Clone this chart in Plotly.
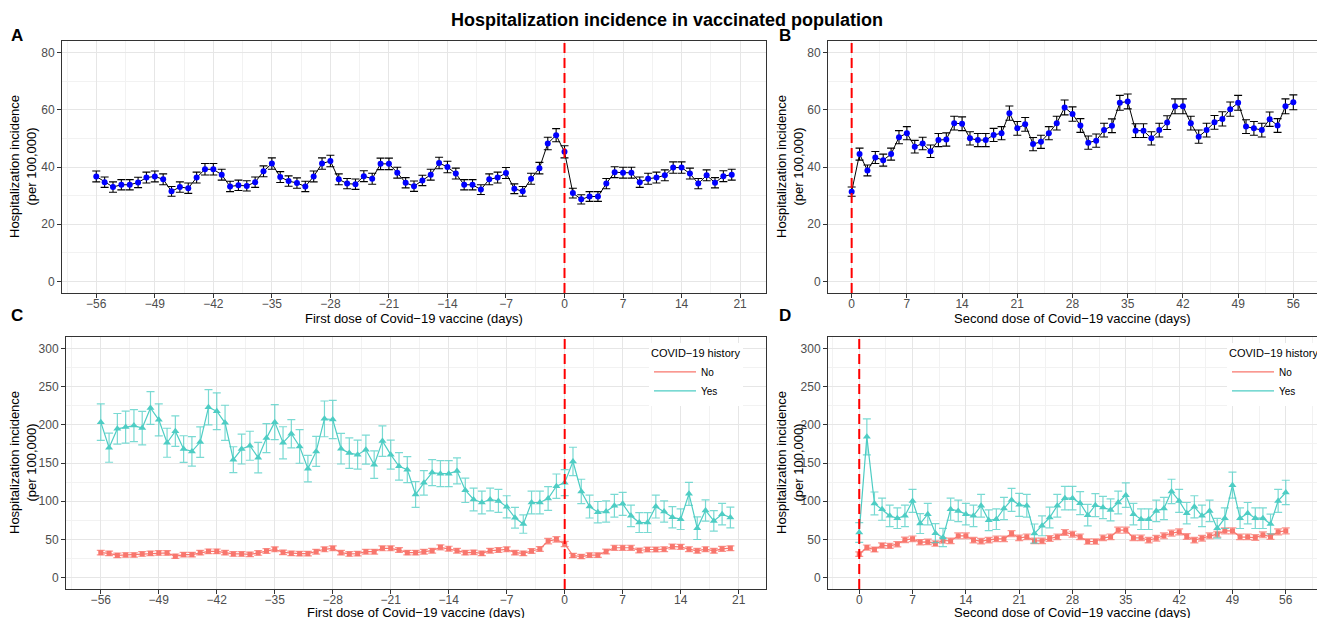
import plotly.graph_objects as go

W, H = 1317, 618
FONT = "Liberation Sans, Arial, sans-serif"

days_first = list(range(-56, 21))
days_second = list(range(0, 57))
ticks_first = [-56, -49, -42, -35, -28, -21, -14, -7, 0, 7, 14, 21]
ticks_second = [0, 7, 14, 21, 28, 35, 42, 49, 56]

# Panel A: first dose, overall
a_rate = [36.7, 34.7, 33.0, 33.8, 33.8, 34.6, 36.3, 36.7, 35.7, 31.5, 33.0, 32.6, 36.3, 39.2, 39.2, 37.3,
          33.2, 33.6, 33.4, 34.7, 38.5, 41.2, 36.5, 35.1, 34.4, 33.2, 36.7, 41.2, 42.1, 35.7, 34.2, 34.0,
          36.8, 35.9, 41.1, 41.1, 38.0, 34.5, 33.3, 35.3, 37.3, 41.4, 40.0, 37.7, 33.8, 33.8, 32.1, 35.7,
          36.3, 37.9, 32.4, 31.5, 35.9, 39.6, 48.2, 51.1, 45.3, 30.9, 28.7, 29.7, 29.7, 34.2, 38.2, 38.0,
          38.0, 34.7, 35.9, 36.3, 37.1, 39.8, 39.8, 37.7, 34.2, 37.1, 34.5, 36.8, 37.3]
a_err = [1.9, 1.8, 1.8, 1.8, 1.8, 1.8, 1.9, 1.9, 1.9, 1.7, 1.8, 1.8, 1.9, 2.0, 2.0, 1.9,
         1.8, 1.8, 1.8, 1.8, 1.9, 2.0, 1.9, 1.8, 1.8, 1.8, 1.9, 2.0, 2.0, 1.9, 1.8, 1.8,
         1.9, 1.9, 2.0, 2.0, 1.9, 1.8, 1.8, 1.8, 1.9, 2.0, 2.0, 1.9, 1.8, 1.8, 1.7, 1.9,
         1.9, 1.9, 1.7, 1.7, 1.9, 2.0, 2.2, 2.3, 2.1, 1.7, 1.6, 1.7, 1.7, 1.8, 1.9, 1.9,
         1.9, 1.8, 1.9, 1.9, 1.9, 2.0, 2.0, 1.9, 1.8, 1.9, 1.8, 1.9, 1.9]

# Panel B: second dose, overall
b_rate = [31.4, 44.5, 38.8, 43.3, 42.4, 44.5, 50.4, 51.8, 47.1, 48.2, 45.5, 49.4, 49.6, 55.3, 55.1, 50.0,
          49.4, 49.4, 51.2, 51.8, 58.8, 53.5, 54.9, 48.0, 48.8, 51.8, 55.3, 60.8, 58.5, 54.5, 48.5, 49.2,
          52.9, 54.4, 62.4, 62.9, 52.7, 52.7, 50.0, 52.9, 55.5, 61.2, 61.2, 55.3, 50.6, 52.9, 55.6, 56.8,
          60.2, 62.4, 54.1, 53.5, 52.9, 56.7, 54.5, 61.2, 62.6]
b_err = [1.6, 2.1, 1.9, 2.1, 2.1, 2.1, 2.3, 2.3, 2.2, 2.2, 2.2, 2.3, 2.3, 2.4, 2.4, 2.3,
         2.3, 2.3, 2.3, 2.3, 2.5, 2.4, 2.4, 2.3, 2.3, 2.3, 2.4, 2.6, 2.5, 2.4, 2.3, 2.3,
         2.4, 2.4, 2.6, 2.6, 2.4, 2.4, 2.3, 2.4, 2.4, 2.6, 2.6, 2.4, 2.3, 2.4, 2.4, 2.5,
         2.5, 2.6, 2.4, 2.4, 2.4, 2.5, 2.4, 2.6, 2.6]

# Panel C: first dose by COVID-19 history
c_no = [32.6, 31.7, 29.0, 29.6, 29.6, 30.9, 31.7, 32.2, 32.2, 27.8, 30.0, 30.0, 32.6, 34.3, 34.3, 32.6,
        30.9, 30.9, 30.4, 32.2, 34.8, 37.0, 33.0, 31.7, 31.3, 31.3, 33.9, 37.0, 38.3, 32.6, 30.9, 31.3,
        33.9, 33.9, 38.3, 38.3, 36.0, 32.6, 32.6, 33.9, 35.2, 39.6, 37.8, 35.2, 32.6, 33.0, 31.7, 35.2,
        36.0, 37.0, 32.6, 31.7, 34.8, 37.4, 47.8, 50.0, 43.9, 28.8, 27.5, 29.3, 29.3, 34.0, 39.0, 39.0,
        39.0, 35.4, 36.7, 36.7, 37.1, 40.6, 40.2, 37.1, 35.0, 37.1, 35.0, 37.6, 38.4]
c_no_err = [3.0, 3.0, 2.9, 2.9, 2.9, 3.0, 3.0, 3.0, 3.0, 2.8, 2.9, 2.9, 3.0, 3.1, 3.1, 3.0,
            3.0, 3.0, 2.9, 3.0, 3.1, 3.2, 3.0, 3.0, 3.0, 3.0, 3.1, 3.2, 3.2, 3.0, 3.0, 3.0,
            3.1, 3.1, 3.2, 3.2, 3.1, 3.0, 3.0, 3.1, 3.1, 3.3, 3.2, 3.1, 3.0, 3.0, 3.0, 3.1,
            3.1, 3.2, 3.0, 3.0, 3.1, 3.2, 3.6, 3.7, 3.4, 2.8, 2.8, 2.9, 2.9, 3.1, 3.3, 3.3,
            3.3, 3.1, 3.1, 3.1, 3.2, 3.3, 3.3, 3.2, 3.1, 3.2, 3.1, 3.2, 3.2]
c_yes = [203.5, 170.0, 194.8, 197.0, 199.0, 195.7, 222.0, 206.5, 176.5, 191.7, 168.3, 165.2, 177.4, 223.0,
         217.8, 202.6, 154.3, 168.3, 172.6, 157.0, 182.6, 203.5, 176.5, 188.3, 171.7, 142.6, 165.2, 207.8,
         207.0, 168.7, 163.0, 160.9, 167.4, 147.8, 178.7, 160.9, 145.7, 141.3, 108.7, 124.0, 137.4, 136.0,
         136.0, 139.6, 114.3, 102.2, 98.3, 102.2, 100.4, 92.6, 78.3, 70.0, 98.3, 98.3, 103.5, 119.6,
         124.3, 152.0, 112.7, 93.0, 85.6, 86.5, 94.0, 96.5, 80.8, 72.0, 72.0, 93.0, 86.5, 79.0,
         76.4, 109.6, 64.6, 87.8, 74.2, 83.0, 78.6]
c_yes_err = [24.0, 19.0, 20.0, 21.0, 21.0, 22.0, 21.5, 21.0, 19.0, 20.0, 17.4, 19.3, 20.0, 23.0,
             24.0, 23.0, 17.0, 19.6, 19.0, 20.0, 19.0, 23.0, 21.0, 18.5, 22.0, 17.4, 19.6, 23.4,
             25.0, 20.0, 20.0, 19.0, 19.0, 18.0, 20.0, 19.0, 18.0, 17.0, 16.8, 16.0, 17.0, 17.0,
             17.0, 17.0, 16.0, 15.0, 15.0, 15.0, 15.0, 14.5, 13.5, 12.0, 15.0, 15.0, 15.5, 16.0,
             17.0, 18.6, 16.0, 15.0, 14.0, 14.0, 15.0, 15.0, 14.0, 13.0, 13.0, 15.0, 14.0, 14.0,
             13.5, 15.0, 14.8, 14.0, 13.5, 14.0, 13.5]

# Panel D: second dose by COVID-19 history
d_no = [30.6, 39.3, 36.7, 42.0, 41.5, 43.7, 49.3, 50.7, 46.3, 46.7, 44.5, 48.5, 48.0, 54.6, 54.6, 48.9,
        47.6, 48.9, 50.7, 50.7, 57.6, 52.0, 53.3, 48.0, 48.0, 51.1, 53.3, 59.0, 56.8, 53.3, 47.2, 47.2,
        52.0, 53.3, 62.0, 62.0, 52.0, 52.0, 48.9, 51.5, 54.6, 58.1, 59.8, 53.7, 48.9, 51.5, 54.6, 56.8,
        61.1, 61.1, 53.3, 53.3, 52.4, 55.9, 53.7, 59.8, 61.1]
d_no_err = [3.0, 3.3, 3.2, 3.4, 3.4, 3.5, 3.6, 3.7, 3.5, 3.5, 3.5, 3.6, 3.6, 3.8, 3.8, 3.6,
            3.6, 3.6, 3.7, 3.7, 3.9, 3.7, 3.7, 3.6, 3.6, 3.7, 3.7, 3.9, 3.8, 3.7, 3.6, 3.6,
            3.7, 3.7, 4.0, 4.0, 3.7, 3.7, 3.6, 3.7, 3.8, 3.9, 3.9, 3.7, 3.6, 3.7, 3.8, 3.8,
            3.9, 3.9, 3.7, 3.7, 3.7, 3.8, 3.7, 3.9, 3.9]
d_yes = [59.0, 184.3, 97.0, 89.5, 80.8, 77.7, 80.8, 100.4, 70.7, 83.0, 58.1, 52.4, 89.5, 87.3, 83.0,
         80.8, 94.0, 75.0, 76.4, 90.4, 101.7, 95.2, 94.0, 57.6, 67.7, 78.6, 94.0, 104.0, 104.0, 97.4,
         81.7, 94.8, 91.7, 88.6, 98.3, 107.9, 83.0, 76.4, 76.4, 87.3, 90.4, 112.7, 100.4, 84.3, 92.6,
         80.8, 87.3, 64.6, 77.7, 121.0, 77.7, 84.3, 77.7, 77.7, 70.0, 100.4, 111.4]
d_yes_err = [13.0, 23.6, 15.0, 14.5, 14.0, 13.5, 14.0, 15.0, 13.0, 14.0, 12.5, 12.0, 14.5, 14.0, 14.0,
             14.0, 15.0, 13.5, 13.5, 14.5, 15.0, 15.0, 15.0, 12.5, 13.0, 13.5, 15.0, 15.5, 15.5, 15.0,
             14.0, 15.0, 14.5, 14.5, 15.0, 16.0, 14.0, 13.5, 13.5, 14.0, 14.5, 16.0, 15.0, 14.0, 14.5,
             14.0, 14.0, 13.0, 13.5, 17.0, 13.5, 14.0, 13.5, 13.5, 13.0, 15.0, 16.0]

COL_NO = "#F8766D"
COL_YES = "#4ECDC4"
ERR_NO = "rgba(248,118,109,0.75)"
ERR_YES = "rgba(78,205,196,0.75)"


def px_x(p):
    return p / W


def px_y(p):
    return 1 - p / H


fig = go.Figure()

# Panel A
fig.add_trace(go.Scatter(x=days_first, y=a_rate, mode="lines+markers", xaxis="x", yaxis="y",
                         line=dict(color="black", width=1),
                         marker=dict(color="blue", size=6),
                         error_y=dict(type="data", array=a_err, color="black", thickness=1.1, width=4),
                         showlegend=False))
# Panel B
fig.add_trace(go.Scatter(x=days_second, y=b_rate, mode="lines+markers", xaxis="x2", yaxis="y2",
                         line=dict(color="black", width=1),
                         marker=dict(color="blue", size=6),
                         error_y=dict(type="data", array=b_err, color="black", thickness=1.1, width=4),
                         showlegend=False))
# Panel C
fig.add_trace(go.Scatter(x=days_first, y=c_no, mode="lines+markers", xaxis="x3", yaxis="y3",
                         line=dict(color=COL_NO, width=1.2),
                         marker=dict(color=COL_NO, size=5, symbol="square"),
                         error_y=dict(type="data", array=c_no_err, color=ERR_NO, thickness=1.2, width=4),
                         showlegend=False))
fig.add_trace(go.Scatter(x=days_first, y=c_yes, mode="lines+markers", xaxis="x3", yaxis="y3",
                         line=dict(color=COL_YES, width=1.2),
                         marker=dict(color=COL_YES, size=7, symbol="triangle-up"),
                         error_y=dict(type="data", array=c_yes_err, color=ERR_YES, thickness=1.2, width=4),
                         showlegend=False))
# Panel D
fig.add_trace(go.Scatter(x=days_second, y=d_no, mode="lines+markers", xaxis="x4", yaxis="y4",
                         line=dict(color=COL_NO, width=1.2),
                         marker=dict(color=COL_NO, size=5, symbol="square"),
                         error_y=dict(type="data", array=d_no_err, color=ERR_NO, thickness=1.2, width=4),
                         showlegend=False))
fig.add_trace(go.Scatter(x=days_second, y=d_yes, mode="lines+markers", xaxis="x4", yaxis="y4",
                         line=dict(color=COL_YES, width=1.2),
                         marker=dict(color=COL_YES, size=7, symbol="triangle-up"),
                         error_y=dict(type="data", array=d_yes_err, color=ERR_YES, thickness=1.2, width=4),
                         showlegend=False))

# Legend-only traces (lines only, like ggplot key)
for lg, ax in (("legend", ("x3", "y3")), ("legend2", ("x4", "y4"))):
    fig.add_trace(go.Scatter(x=[None], y=[None], mode="lines", name="No", legend=lg,
                             xaxis=ax[0], yaxis=ax[1], line=dict(color=COL_NO, width=1.2)))
    fig.add_trace(go.Scatter(x=[None], y=[None], mode="lines", name="Yes", legend=lg,
                             xaxis=ax[0], yaxis=ax[1], line=dict(color=COL_YES, width=1.2)))

tick_font = dict(family=FONT, size=12, color="#4D4D4D")


def xax(dom, rng, ticks, anchor, mirror=True):
    return dict(domain=dom, range=rng, tickvals=ticks, anchor=anchor, ticks="outside", ticklen=4,
                tickcolor="#333333", tickfont=tick_font, showline=True, linecolor="#333333", linewidth=1,
                mirror=mirror, showgrid=True, gridcolor="#E6E6E6", gridwidth=1, zeroline=False,
                ticklabelstandoff=-4,
                minor=dict(dtick=3.5, tick0=0, showgrid=True, gridcolor="#F2F2F2", gridwidth=1, ticks=""))


def yax(dom, rng, ticks, minor_dt, anchor, mirror=True):
    return dict(domain=dom, range=rng, tickvals=ticks, anchor=anchor, ticks="outside", ticklen=4,
                tickcolor="#333333", tickfont=tick_font, showline=True, linecolor="#333333", linewidth=1,
                mirror=mirror, showgrid=True, gridcolor="#E6E6E6", gridwidth=1, zeroline=False,
                minor=dict(dtick=minor_dt, tick0=0, showgrid=True, gridcolor="#F2F2F2", gridwidth=1, ticks=""))


top_dom = [px_y(293), px_y(41)]
bot_dom = [px_y(589), px_y(337)]
left_a = [px_x(62), px_x(766)]
left_c = [px_x(66), px_x(766)]
right_dom = [px_x(828), 1.0]

legend_common = dict(xanchor="left", yanchor="top", bgcolor="white",
                     font=dict(family=FONT, size=10, color="black"),
                     title=dict(text="COVID\u221219 history", font=dict(family=FONT, size=11, color="black")),
                     itemwidth=42, tracegroupgap=0)

fig.update_layout(
    width=W, height=H,
    margin=dict(l=0, r=0, t=0, b=0, autoexpand=False),
    paper_bgcolor="white", plot_bgcolor="white",
    font=dict(family=FONT, color="black"),
    xaxis=xax(left_a, [-60.1, 24.1], ticks_first, "y"),
    yaxis=yax(top_dom, [-4, 84], [0, 20, 40, 60, 80], 10, "x"),
    xaxis2=xax(right_dom, [-3.0, 59.0], ticks_second, "y2"),
    yaxis2=yax(top_dom, [-4, 84], [0, 20, 40, 60, 80], 10, "x2", mirror=False),
    xaxis3=xax(left_c, [-60.2, 24.3], ticks_first, "y3"),
    yaxis3=yax(bot_dom, [-15, 315], [0, 50, 100, 150, 200, 250, 300], 25, "x3"),
    xaxis4=xax(right_dom, [-4.1, 60.1], ticks_second, "y4"),
    yaxis4=yax(bot_dom, [-15, 315], [0, 50, 100, 150, 200, 250, 300], 25, "x4", mirror=False),
    legend=dict(x=px_x(649), y=px_y(343), **legend_common),
    legend2=dict(x=px_x(1227), y=px_y(343), **legend_common),
)

# Red dashed reference lines at day 0
for xa, ya in (("x", "y"), ("x2", "y2"), ("x3", "y3"), ("x4", "y4")):
    fig.add_shape(type="line", x0=0, x1=0, y0=0, y1=1, xref=xa, yref=ya + " domain",
                  line=dict(color="red", width=2, dash="10px,5px"), layer="above")

ann = []
ann.append(dict(text="<b>Hospitalization incidence in vaccinated population</b>", x=px_x(667), y=px_y(20),
                font=dict(size=18, family=FONT, color="black")))
for lab, xp, yp in (("A", 17, 36), ("B", 785, 36), ("C", 17, 315), ("D", 785, 315)):
    ann.append(dict(text="<b>%s</b>" % lab, x=px_x(xp), y=px_y(yp), font=dict(size=17, family=FONT, color="black")))
ytitle = "Hospitalization incidence<br>(per 100,000)"
for xp, yp in ((23, 167), (790, 167), (23, 463), (790, 463)):
    ann.append(dict(text=ytitle, x=px_x(xp), y=px_y(yp), textangle=-90,
                    font=dict(size=13, family=FONT, color="black")))
for txt, xp, yp in (("First dose of Covid\u221219 vaccine (days)", 414, 318),
                    ("Second dose of Covid\u221219 vaccine (days)", 1072, 318),
                    ("First dose of Covid\u221219 vaccine (days)", 416, 612),
                    ("Second dose of Covid\u221219 vaccine (days)", 1072, 612)):
    ann.append(dict(text=txt, x=px_x(xp), y=px_y(yp), font=dict(size=13, family=FONT, color="black")))

for a in ann:
    a.update(xref="paper", yref="paper", xanchor="center", yanchor="middle", showarrow=False)
fig.update_layout(annotations=ann)

fig.write_html("out.html", config={"displayModeBar": False},
               post_script="document.body.style.margin='0px';")
